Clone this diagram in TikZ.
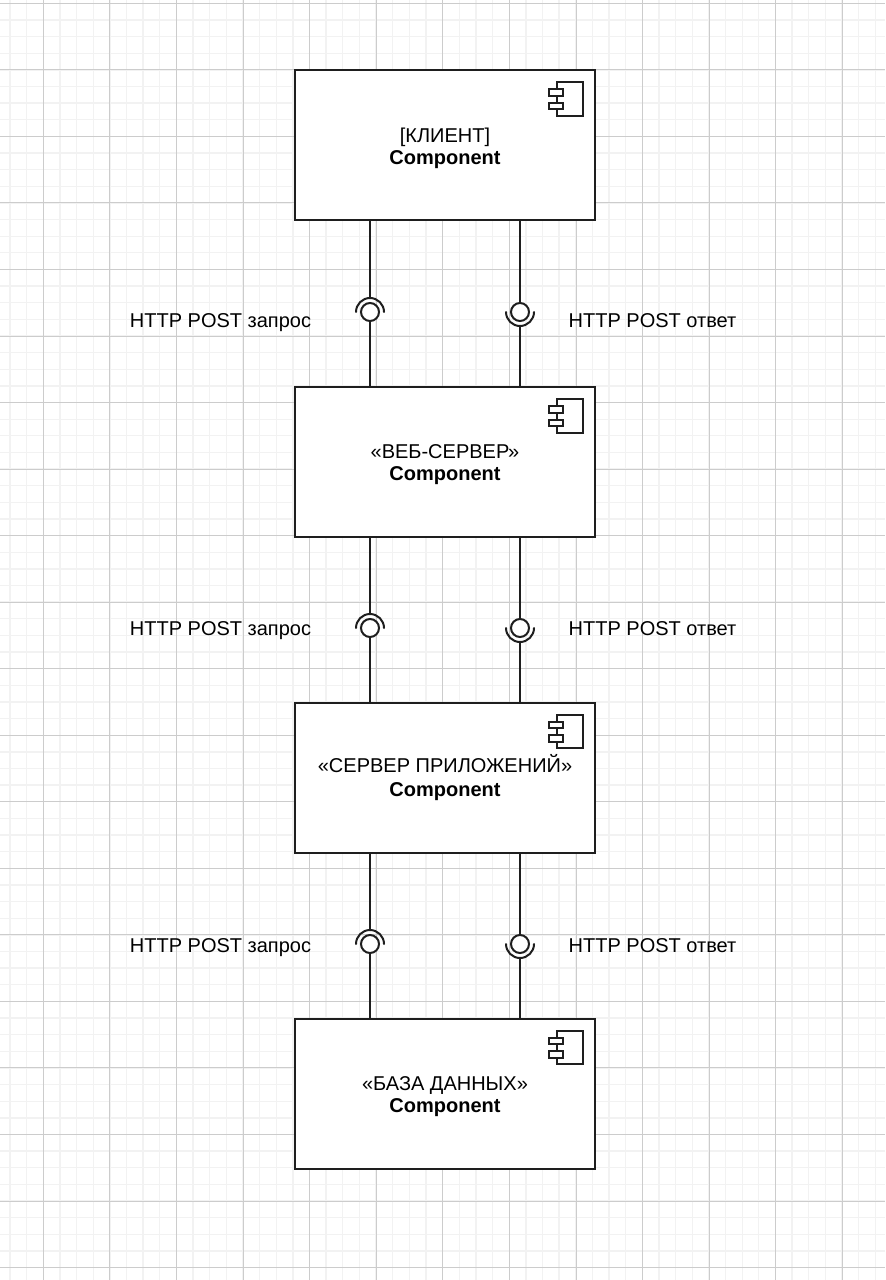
\documentclass[tikz,border=0pt]{standalone}
\usepackage{fontspec}
\usetikzlibrary{calc}
\setmainfont{Liberation Sans}
\definecolor{inkc}{HTML}{1E1E1E}
\definecolor{gridmajor}{HTML}{CCCCCC}
\definecolor{gridminor}{HTML}{F2F2F2}
\newcommand{\toplift}[1]{\rule{0pt}{#1}}
\tikzset{
  compbox/.style={draw=inkc,line width=1.5pt,fill=white,minimum width=225pt,minimum height=112.5pt,inner sep=0pt,outer sep=0pt,align=center,font=\fontsize{15pt}{16.5pt}\selectfont},
  wire/.style={draw=inkc,line width=1.5pt},
  ball/.style={circle,draw=inkc,line width=1.5pt,fill=white,minimum size=13.5pt,inner sep=0pt,outer sep=0pt},
  iconline/.style={draw=inkc,line width=1.4pt,fill=white},
  lbl/.style={font=\fontsize{15pt}{16.5pt}\selectfont,inner sep=0pt,anchor=base,text=black}
}
\begin{document}
\begin{tikzpicture}[x=0.75pt,y=-0.75pt]
\useasboundingbox (0,0) rectangle (885,1280);
\fill[white] (0,0) rectangle (885,1280);
% grid
\foreach \i in {0,...,53}{
  \pgfmathsetmacro{\gx}{10+16.64*\i}
  \draw[gridminor,line width=1pt] (\gx,0) -- (\gx,1280);
}
\foreach \i in {0,...,77}{
  \pgfmathsetmacro{\gy}{3.3+16.635*\i}
  \draw[gridminor,line width=1pt] (0,\gy) -- (885,\gy);
}
\foreach \i in {0,...,12}{
  \pgfmathsetmacro{\gx}{43.3+66.6*\i}
  \draw[gridmajor,line width=0.7pt] (\gx,0) -- (\gx,1280);
}
\foreach \i in {0,...,19}{
  \pgfmathsetmacro{\gy}{3.3+66.54*\i}
  \draw[gridmajor,line width=0.7pt] (0,\gy) -- (885,\gy);
}
% component boxes
\node[compbox] (client) at (445,145) {\toplift{15.5pt}[КЛИЕНТ]\\\textbf{Component}};
\node[compbox] (web) at (445,462) {\toplift{15pt}«ВЕБ-СЕРВЕР»\\\textbf{Component}};
\node[compbox] (app) at (445,777.5) {«СЕРВЕР ПРИЛОЖЕНИЙ»\\[1.5pt]\textbf{Component}};
\node[compbox] (db) at (445,1093.5) {\toplift{15.5pt}«БАЗА ДАННЫХ»\\\textbf{Component}};
% icons
\foreach \b in {client,web,app,db}{
  \begin{scope}[shift={(\b.north west)}]
    \draw[iconline] (261.7,12.3) rectangle (287.7,45.7);
    \draw[iconline] (254.3,19.3) rectangle (268.3,25.6);
    \draw[iconline] (254.3,32.7) rectangle (268.3,39.3);
  \end{scope}
}
% interfaces
\foreach \up/\down/\n/\yy/\ly in {client/web/1/312/327,web/app/2/628/635,app/db/3/944/952}{
  \node[ball] (req\n) at (370,\yy) {};
  \node[ball] (resp\n) at (520,\yy) {};
  \coordinate (reqtop\n) at (370,\yy-14);
  \coordinate (respbot\n) at (520,\yy+14);
  \draw[wire] (\up.south west) ++(75,0) -- (reqtop\n);
  \draw[wire] (req\n.south) -- ($(\down.north west)+(75,0)$);
  \draw[wire] (\up.south east) ++(-75,0) -- (resp\n.north);
  \draw[wire] (respbot\n) -- ($(\down.north east)+(-75,0)$);
  \draw[wire,line cap=round] (req\n.center) ++(180:10.5pt) arc (180:0:10.5pt);
  \draw[wire,line cap=round] (resp\n.center) ++(180:10.5pt) arc (180:360:10.5pt);
  \node[lbl] (reql\n) at (220.5,\ly) {HTTP POST запрос};
  \node[lbl] (respl\n) at (652.5,\ly) {HTTP POST ответ};
}
\end{tikzpicture}
\end{document}
